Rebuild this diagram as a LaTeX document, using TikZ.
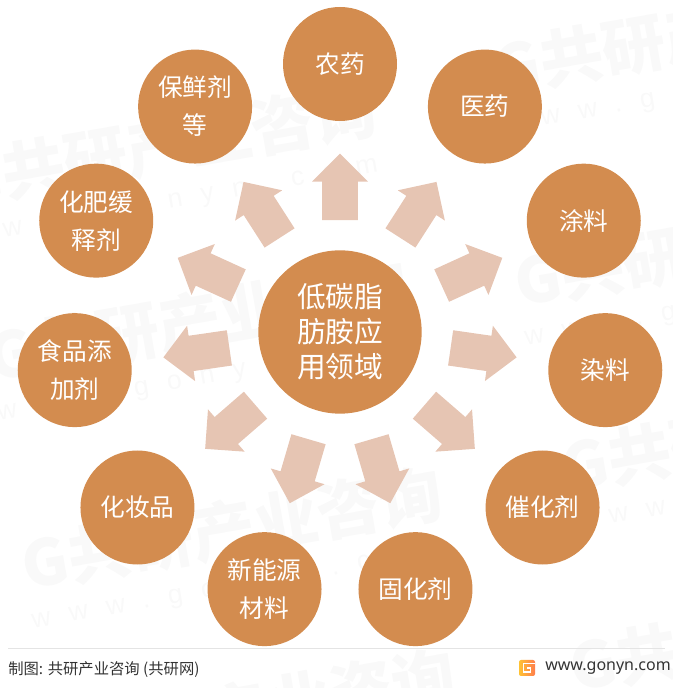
\documentclass[tikz,border=0pt]{standalone}
\usepackage{fontspec}
\setmainfont{Noto Sans CJK SC}
\newfontfamily\wwwfont{Noto Sans}
\newfontfamily\markfont[LetterSpace=70]{Liberation Sans}
\usetikzlibrary{shapes.arrows}
\definecolor{discfill}{HTML}{D38C4F}
\definecolor{arrowfill}{HTML}{E6C5B3}
\definecolor{markgray}{HTML}{F9F9F9}
\definecolor{footline}{HTML}{E4E4E4}
\definecolor{foottext}{HTML}{333333}
\tikzset{
  disc/.style={circle,fill=discfill,text=white,inner sep=0pt,minimum size=85.5pt,
    align=center,font=\fontsize{18.5}{28.5}\selectfont},
  hubdisc/.style={disc,minimum size=122.5pt,font=\fontsize{21.5}{26.25}\selectfont},
  blockarrow/.style={single arrow,fill=arrowfill,inner sep=0pt,text height=24.5pt,text depth=0pt,
    text width=1pt,minimum width=42pt,minimum height=50pt,single arrow head indent=0pt,anchor=tail},
  markhead/.style={text=markgray,inner sep=0pt,anchor=west,rotate=10,
    font=\fontsize{47.5}{47.5}\selectfont\bfseries},
  markurl/.style={text=markgray,inner sep=0pt,anchor=west,rotate=10,
    font=\fontsize{20}{20}\markfont},
  foot/.style={text=foottext,inner sep=0pt,anchor=west,font=\fontsize{11.5}{14}\selectfont}
}
\begin{document}
\begin{tikzpicture}[x=0.75pt,y=0.75pt]
  \useasboundingbox (0,0) rectangle (673,688);
  \clip (0,0) rectangle (673,688);
  % watermark
  \foreach \mx/\my [count=\i] in {22/122,-44/506,-12/330,494/618,515/405,562/220,570/20,35/-60}{
    \node[markhead] (markhead\i) at (\mx,\my) {G共研产业咨询};
    \node[markurl] (markurl\i) at (\mx+10,\my-58) {www.gonyn.com};
  }
  \node[hubdisc] (hub) at (340,356) {低碳脂\\肪胺应\\用领域};
  \foreach \a/\name/\txt in {90/nongyao/农药,57.27/yiyao/医药,24.55/tuliao/涂料,
      -8.18/ranliao/染料,-40.91/cuihua/催化剂,-73.64/guhua/固化剂,-106.36/xinneng/{新能源\\材料},
      -139.09/huazhuang/化妆品,-171.82/shipin/{食品添\\加剂},155.45/huafei/{化肥缓\\释剂},
      122.73/baoxian/{保鲜剂\\等}}{
    \node[blockarrow,rotate=\a] (arrow\name) at ([shift={(\a:111.5)}]hub.center) {};
    \node[disc] (\name) at ([shift={(\a:268)}]hub.center) {\txt};
  }
  % footer
  \coordinate (footl) at (8,39);
  \coordinate (footr) at (665,39);
  \draw[footline,line width=0.75pt] (footl) -- (footr);
  \node[foot] (credit) at (8,18.5) {制图: 共研产业咨询 (共研网)};
  \node[foot,font=\fontsize{12}{14}\wwwfont] (site) at (545,19.5) {www.gonyn.com};
  \shade[left color=orange!60!yellow!80,right color=red!45!orange!70,rounded corners=1.5pt] (519,12) rectangle (535,28);
  \draw[white,line width=1.1pt] (535,24.5) -- (523.5,24.5) -- (523.5,16) -- (530.5,16) -- (530.5,20) -- (527,20);
\end{tikzpicture}
\end{document}
